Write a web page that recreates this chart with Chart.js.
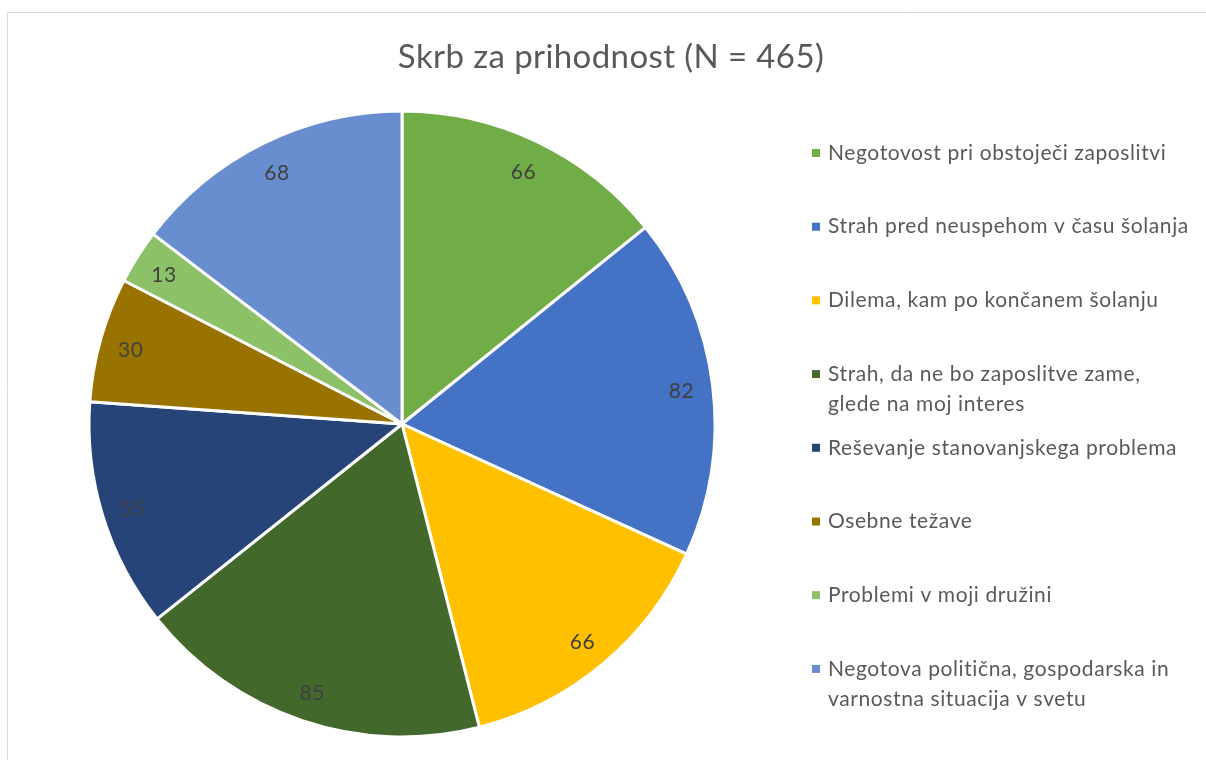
<!DOCTYPE html>
<html>
<head>
<meta charset="utf-8">
<script src="https://cdn.jsdelivr.net/npm/chart.js@4/dist/chart.umd.min.js"></script>
<style>
  html, body { margin: 0; padding: 0; background: #fff; }
  #wrap { position: relative; width: 1206px; height: 760px; }
</style>
</head>
<body>
<div id="wrap"><canvas id="pieChart" width="1206" height="760"></canvas></div>
<script>
// podatki grafa
const chartTitle = 'Skrb za prihodnost (N = 465)';
const categories = [
    ['Negotovost pri obstoječi zaposlitvi'],
    ['Strah pred neuspehom v času šolanja'],
    ['Dilema, kam po končanem šolanju'],
    ['Strah, da ne bo zaposlitve zame,', 'glede na moj interes'],
    ['Reševanje stanovanjskega problema'],
    ['Osebne težave'],
    ['Problemi v moji družini'],
    ['Negotova politična, gospodarska in', 'varnostna situacija v svetu']
];
const counts = [66, 82, 66, 85, 55, 30, 13, 68];
const sliceColors = ['#70AD47', '#4472C4', '#FFC000', '#43682B', '#264478', '#997300', '#8CC168', '#698ED0'];

const FONT = 'Lato, "Open Sans", sans-serif';
const textGray = '#595959';

// okvir, naslov in legenda
const decorPlugin = {
    id: 'decor',
    beforeDraw(chart) {
        const ctx = chart.ctx;
        ctx.save();
        ctx.strokeStyle = '#D9D9D9';
        ctx.lineWidth = 1;
        ctx.beginPath();
        ctx.moveTo(7.5, chart.height);
        ctx.lineTo(7.5, 12.5);
        ctx.lineTo(chart.width, 12.5);
        ctx.stroke();
        ctx.restore();
    },
    afterDraw(chart) {
        const ctx = chart.ctx;
        ctx.save();
        // naslov
        ctx.fillStyle = textGray;
        ctx.font = '33px ' + FONT;
        ctx.letterSpacing = '0.4px';
        ctx.textAlign = 'center';
        ctx.textBaseline = 'middle';
        ctx.fillText(chartTitle, 611, 57);

        // legenda
        ctx.font = '21px ' + FONT;
        ctx.letterSpacing = '0.6px';
        ctx.textAlign = 'left';
        categories.forEach((lines, i) => {
            const y = 153 + i * 73.7;
            ctx.fillStyle = sliceColors[i];
            ctx.fillRect(812, y - 4, 8, 8);
            ctx.fillStyle = textGray;
            lines.forEach((line, j) => {
                ctx.fillText(line, 828, y + j * 30);
            });
        });
        ctx.restore();
    }
};

// vrednosti na rezinah
const valueLabelPlugin = {
    id: 'valueLabels',
    afterDatasetsDraw(chart) {
        const ctx = chart.ctx;
        const meta = chart.getDatasetMeta(0);
        ctx.save();
        ctx.fillStyle = '#404040';
        ctx.font = '21px ' + FONT;
        ctx.letterSpacing = '0.6px';
        ctx.textAlign = 'center';
        ctx.textBaseline = 'middle';
        meta.data.forEach((arc, i) => {
            const p = arc.getProps(['x', 'y', 'startAngle', 'endAngle', 'outerRadius'], true);
            const mid = (p.startAngle + p.endAngle) / 2;
            const r = p.outerRadius * 0.9;
            ctx.fillText(String(counts[i]), p.x + Math.cos(mid) * r, p.y + Math.sin(mid) * r + 2);
        });
        ctx.restore();
    }
};

new Chart(document.getElementById('pieChart'), {
    type: 'pie',
    data: {
        labels: categories,
        datasets: [{
            data: counts,
            backgroundColor: sliceColors,
            borderColor: '#FFFFFF',
            borderWidth: 3,
            radius: 313
        }]
    },
    options: {
        responsive: false,
        animation: false,
        layout: {
            padding: { left: 90, right: 492, top: 112, bottom: 24 }
        },
        plugins: {
            legend: { display: false },
            title: { display: false },
            tooltip: { enabled: false }
        }
    },
    plugins: [decorPlugin, valueLabelPlugin]
});
</script>
</body>
</html>
